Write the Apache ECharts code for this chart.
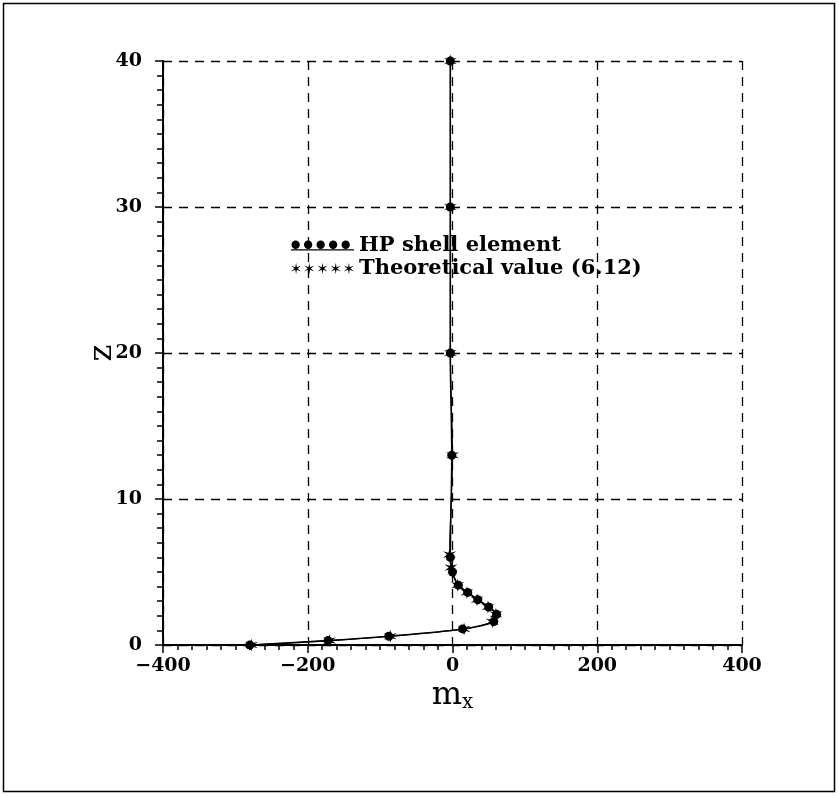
<!DOCTYPE html>
<html>
<head>
<meta charset="utf-8">
<script src="https://cdn.jsdelivr.net/npm/echarts@6/dist/echarts.min.js"></script>
<style>
  html, body { margin: 0; padding: 0; background: #fff; }
  #chart { width: 839px; height: 796px; }
</style>
</head>
<body>
<div id="chart"></div>
<script>
// Bending moment m_x along the height z of the shell
const shellZ  = [0, 0.3, 0.6, 1.1, 1.6, 2.1, 2.6, 3.1, 3.6, 4.1, 5.0, 6.0, 13, 20, 30, 40];
const shellMx = [-280, -172, -88, 14, 57, 61, 50, 35, 21, 8, 0, -3, -1, -3, -3, -3];

const theoryZ  = [0, 0.3, 0.6, 1.1, 1.6, 2.1, 2.6, 3.1, 3.6, 4.1, 5.3, 6.2, 13, 20, 30, 40];
const theoryMx = [-278, -170, -86, 16, 55, 60, 49, 34, 20, 7, -2, -4, 0, -3, -3, -3];

const xTicks = [-400, -200, 0, 200, 400];
const yTicks = [0, 10, 20, 30, 40];

const seriesNames = ['HP shell element', 'Theoretical value (6.12)'];

// six-pointed asterisk polygon used as the marker of the theoretical curve
function starPath(cx, cy, rOut, rIn, pts) {
  let d = '';
  for (let i = 0; i < pts * 2; i++) {
    const a = Math.PI * i / pts - Math.PI / 2;
    const r = i % 2 === 0 ? rOut : rIn;
    d += (i === 0 ? 'M' : 'L') + (cx + r * Math.cos(a)).toFixed(2) + ' ' + (cy + r * Math.sin(a)).toFixed(2) + ' ';
  }
  return d + 'Z ';
}
const starSymbol = 'path://' + starPath(10, 10, 10, 3.2, 6);

// legend icons: a row of five dots on a line, a row of five asterisks
let dotsIcon = 'path://';
for (let i = 0; i < 5; i++) {
  const cx = 5 + i * 13.5;
  dotsIcon += `M${cx - 4.5} 5 a4.5 4.5 0 1 0 9 0 a4.5 4.5 0 1 0 -9 0 `;
}
dotsIcon += 'M0 10 L68 10 L68 11.2 L0 11.2 Z';
let starsIcon = 'path://';
for (let i = 0; i < 5; i++) starsIcon += starPath(6 + i * 13.5, 6, 6, 1.6, 6);

const pairs = (xs, ys) => xs.map((x, i) => [x, ys[i]]);
const minusSign = v => String(v).replace('-', '\u2212');

const labelFont = { fontFamily: 'DejaVu Serif', fontWeight: 'bold', fontSize: 19, color: '#000' };

const chart = echarts.init(document.getElementById('chart'), null, { renderer: 'canvas' });
chart.setOption({
  backgroundColor: '#fff',
  animation: false,
  graphic: [{
    type: 'rect',
    shape: { x: 3.5, y: 3.5, width: 831, height: 788 },
    style: { fill: 'none', stroke: '#000', lineWidth: 1.5 }
  }],
  grid: { left: 163, right: 97, top: 61, bottom: 151 },
  legend: {
    orient: 'vertical',
    left: 286,
    top: 230,
    itemGap: 2,
    itemWidth: 63,
    itemHeight: 12,
    selectedMode: false,
    textStyle: { fontFamily: 'DejaVu Serif', fontWeight: 'bold', fontSize: 21, color: '#000', padding: [0, 0, 0, 0] },
    data: [
      { name: seriesNames[0], icon: dotsIcon },
      { name: seriesNames[1], icon: starsIcon }
    ]
  },
  xAxis: {
    type: 'value',
    min: xTicks[0],
    max: xTicks[xTicks.length - 1],
    interval: 200,
    name: '{m|m}{s|x}',
    nameLocation: 'middle',
    nameGap: 34,
    nameMoveOverlap: false,
    nameTextStyle: {
      rich: {
        m: { fontFamily: 'DejaVu Serif', fontSize: 32, color: '#000' },
        s: { fontFamily: 'DejaVu Serif', fontSize: 20, color: '#000', padding: [14, 0, 0, 0] }
      }
    },
    axisLine: { onZero: false, lineStyle: { color: '#000', width: 2 } },
    axisTick: { length: 8, lineStyle: { color: '#000', width: 1.5 } },
    minorTick: { show: true, splitNumber: 10, length: 5, lineStyle: { color: '#000', width: 1.5 } },
    axisLabel: Object.assign({ margin: 12, formatter: minusSign }, labelFont),
    splitLine: { show: true, lineStyle: { color: '#000', type: [9, 7], width: 1.3 } }
  },
  yAxis: {
    type: 'value',
    min: yTicks[0],
    max: yTicks[yTicks.length - 1],
    interval: 10,
    name: 'z',
    nameLocation: 'middle',
    nameRotate: 90,
    nameGap: 44,
    nameMoveOverlap: false,
    nameTextStyle: { fontFamily: 'DejaVu Serif', fontSize: 32, color: '#000' },
    axisLine: { onZero: false, lineStyle: { color: '#000', width: 2 } },
    axisTick: { length: 8, lineStyle: { color: '#000', width: 1.5 } },
    minorTick: { show: true, splitNumber: 10, length: 6, lineStyle: { color: '#000', width: 1.5 } },
    axisLabel: Object.assign({ margin: 21 }, labelFont),
    splitLine: { show: true, lineStyle: { color: '#000', type: [9, 7], width: 1.3 } }
  },
  series: [
    {
      name: seriesNames[0],
      type: 'line',
      data: pairs(shellMx, shellZ),
      smooth: 0.3,
      symbol: 'circle',
      symbolSize: 9,
      itemStyle: { color: '#000' },
      lineStyle: { color: '#000', width: 1.6 },
      z: 3
    },
    {
      name: seriesNames[1],
      type: 'line',
      data: pairs(theoryMx, theoryZ),
      smooth: 0.3,
      symbol: starSymbol,
      symbolSize: 13,
      itemStyle: { color: '#000' },
      lineStyle: { color: '#000', width: 1 },
      z: 2
    }
  ]
});
</script>
</body>
</html>
